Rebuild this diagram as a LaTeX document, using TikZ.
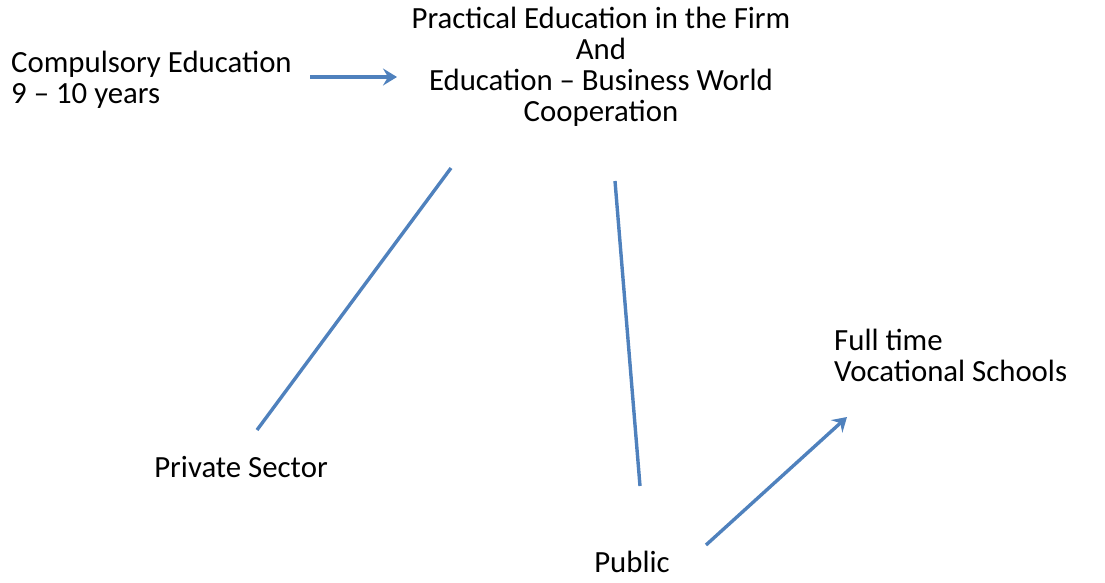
\documentclass[tikz,border=0pt]{standalone}
\usepackage{fontspec}
\setmainfont{Carlito}
\usetikzlibrary{arrows.meta}
\begin{document}
\begin{tikzpicture}[x=1pt,y=-1pt,
  lbl/.style={inner sep=0pt,font=\fontsize{30.8}{31}\selectfont},
  conn/.style={draw={rgb,255:red,79;green,129;blue,189},line width=3.4pt},
  arr/.style={conn,-{Stealth[length=14pt,width=17pt,inset=5pt]}}]
  \useasboundingbox (0,0) rectangle (1105,582);
  % labels
  \node[lbl,align=left,anchor=west] (comp) at (11,80) {Compulsory Education\\9 -- 10 years};
  \node[lbl,align=center] (prac) at (601,67) {Practical Education in the Firm\\And\\Education -- Business World\\Cooperation};
  \node[lbl] (priv) at (241,467) {Private Sector};
  \node[lbl] (pub) at (632,562) {Public};
  \node[lbl,align=left,anchor=west] (full) at (834,355) {Full time\\Vocational Schools};
  % connector end points
  \coordinate (a1) at (310,77);
  \coordinate (a2) at (397,77);
  \coordinate (b1) at (451,168);
  \coordinate (b2) at (257,430);
  \coordinate (c1) at (615,181);
  \coordinate (c2) at (640,486);
  \coordinate (d1) at (706,545);
  \coordinate (d2) at (847,417);
  % connectors
  \draw[arr] (a1) -- (a2);
  \draw[conn] (b1) -- (b2);
  \draw[conn] (c1) -- (c2);
  \draw[arr] (d1) -- (d2);
\end{tikzpicture}
\end{document}
